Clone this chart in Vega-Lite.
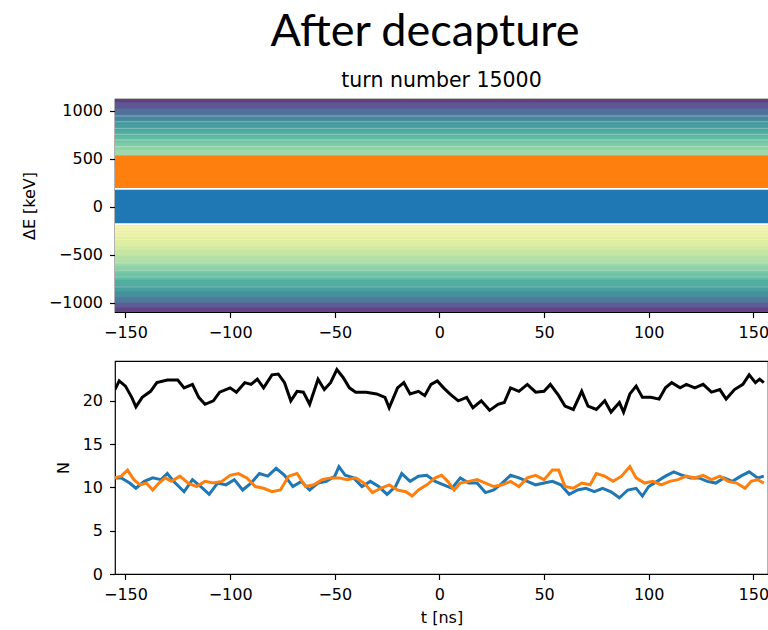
{
  "$schema": "https://vega.github.io/schema/vega-lite/v6.json",
  "background": "white",
  "padding": {"left": 20, "top": 9, "right": 0, "bottom": 0},
  "title": {"text": "After decapture", "font": "Lato", "fontSize": 45, "fontWeight": "normal", "color": "black", "anchor": "middle", "dx": 30, "offset": 15},
  "spacing": 49,
  "bounds": "flush",
  "config": {
    "view": {"stroke": "black", "strokeWidth": 1.2},
    "axis": {"domain": false, "grid": false, "ticks": true, "tickColor": "black", "tickSize": 5.5, "tickWidth": 1.2, "labelFont": "DejaVu Sans", "labelFontSize": 16, "labelColor": "black", "labelPadding": 7, "titleFont": "DejaVu Sans", "titleFontSize": 16, "titleFontWeight": "normal", "titleColor": "black", "titlePadding": 11, "labelFlush": false, "labelOverlap": false}
  },
  "datasets": {
    "bands": [
      {"lo": 1075, "hi": 1140, "lv": 0.0}, {"lo": 1010, "hi": 1087, "lv": 0.07}, {"lo": 945, "hi": 1022, "lv": 0.15},
      {"lo": 885, "hi": 957, "lv": 0.24}, {"lo": 851, "hi": 897, "lv": 0.3}, {"lo": 816, "hi": 863, "lv": 0.34},
      {"lo": 781, "hi": 828, "lv": 0.38}, {"lo": 754, "hi": 793, "lv": 0.42}, {"lo": 723, "hi": 766, "lv": 0.46},
      {"lo": 695, "hi": 735, "lv": 0.5}, {"lo": 660, "hi": 707, "lv": 0.55}, {"lo": 625, "hi": 672, "lv": 0.6},
      {"lo": 583, "hi": 637, "lv": 0.65}, {"lo": 500, "hi": 595, "lv": 0.7},
      {"lo": -243, "hi": -185, "lv": 1.0}, {"lo": -271, "hi": -231, "lv": 0.97}, {"lo": -302, "hi": -259, "lv": 0.95},
      {"lo": -340, "hi": -290, "lv": 0.93}, {"lo": -399, "hi": -328, "lv": 0.89}, {"lo": -460, "hi": -387, "lv": 0.85},
      {"lo": -520, "hi": -448, "lv": 0.81}, {"lo": -583, "hi": -508, "lv": 0.76}, {"lo": -625, "hi": -571, "lv": 0.71},
      {"lo": -659, "hi": -613, "lv": 0.66}, {"lo": -694, "hi": -647, "lv": 0.61}, {"lo": -729, "hi": -682, "lv": 0.56},
      {"lo": -771, "hi": -717, "lv": 0.5}, {"lo": -833, "hi": -759, "lv": 0.43}, {"lo": -890, "hi": -821, "lv": 0.35},
      {"lo": -950, "hi": -878, "lv": 0.27}, {"lo": -1010, "hi": -938, "lv": 0.18}, {"lo": -1060, "hi": -998, "lv": 0.09},
      {"lo": -1120, "hi": -1048, "lv": 0.01}
    ],
    "contours": [
      {"e": 945}, {"e": 885}, {"e": 816}, {"e": 754}, {"e": 695}, {"e": 625},
      {"e": -208}, {"e": -243}, {"e": -271}, {"e": -302}, {"e": -340}, {"e": -399}, {"e": -583}, {"e": -659},
      {"e": -729}, {"e": -833}
    ],
    "particles": [
      {"p": "gap", "lo": -190, "hi": 200},
      {"p": "blue", "lo": -170, "hi": 177},
      {"p": "orange", "lo": 195, "hi": 534}
    ],
    "lines": [
      {"s": "total", "t": -155, "N": 21.3}, {"s": "total", "t": -153, "N": 22.3}, {"s": "total", "t": -150, "N": 21.7},
      {"s": "total", "t": -147, "N": 20.4}, {"s": "total", "t": -145, "N": 19.3}, {"s": "total", "t": -142, "N": 20.4},
      {"s": "total", "t": -138, "N": 21.1}, {"s": "total", "t": -135, "N": 22.1}, {"s": "total", "t": -130, "N": 22.4},
      {"s": "total", "t": -125, "N": 22.4}, {"s": "total", "t": -122, "N": 21.5}, {"s": "total", "t": -118, "N": 21.9},
      {"s": "total", "t": -115, "N": 20.4}, {"s": "total", "t": -112, "N": 19.6}, {"s": "total", "t": -108, "N": 20.0},
      {"s": "total", "t": -105, "N": 21.0}, {"s": "total", "t": -100, "N": 21.5}, {"s": "total", "t": -97, "N": 21.0},
      {"s": "total", "t": -93, "N": 22.1}, {"s": "total", "t": -90, "N": 21.9}, {"s": "total", "t": -87, "N": 22.5},
      {"s": "total", "t": -84, "N": 21.5}, {"s": "total", "t": -80, "N": 23.0}, {"s": "total", "t": -77, "N": 23.1},
      {"s": "total", "t": -74, "N": 22.1}, {"s": "total", "t": -71, "N": 20.0}, {"s": "total", "t": -68, "N": 21.1},
      {"s": "total", "t": -65, "N": 21.0}, {"s": "total", "t": -62, "N": 19.6}, {"s": "total", "t": -58, "N": 22.5},
      {"s": "total", "t": -55, "N": 21.3}, {"s": "total", "t": -52, "N": 22.1}, {"s": "total", "t": -49, "N": 23.6},
      {"s": "total", "t": -46, "N": 22.7}, {"s": "total", "t": -43, "N": 21.5}, {"s": "total", "t": -40, "N": 21.0},
      {"s": "total", "t": -35, "N": 21.0}, {"s": "total", "t": -30, "N": 20.8}, {"s": "total", "t": -26, "N": 20.4},
      {"s": "total", "t": -24, "N": 19.2}, {"s": "total", "t": -20, "N": 21.5}, {"s": "total", "t": -17, "N": 22.1},
      {"s": "total", "t": -14, "N": 20.8}, {"s": "total", "t": -10, "N": 21.1}, {"s": "total", "t": -7, "N": 20.6},
      {"s": "total", "t": -4, "N": 21.9}, {"s": "total", "t": -1, "N": 22.3}, {"s": "total", "t": 2, "N": 21.5},
      {"s": "total", "t": 5, "N": 20.8}, {"s": "total", "t": 9, "N": 20.0}, {"s": "total", "t": 13, "N": 20.4},
      {"s": "total", "t": 16, "N": 19.2}, {"s": "total", "t": 20, "N": 20.0}, {"s": "total", "t": 24, "N": 18.9},
      {"s": "total", "t": 28, "N": 19.6}, {"s": "total", "t": 31, "N": 19.8}, {"s": "total", "t": 34, "N": 21.5},
      {"s": "total", "t": 38, "N": 21.1}, {"s": "total", "t": 42, "N": 21.9}, {"s": "total", "t": 46, "N": 21.0},
      {"s": "total", "t": 50, "N": 21.1}, {"s": "total", "t": 53, "N": 21.9}, {"s": "total", "t": 57, "N": 20.6},
      {"s": "total", "t": 60, "N": 19.4}, {"s": "total", "t": 64, "N": 19.0}, {"s": "total", "t": 68, "N": 21.1},
      {"s": "total", "t": 71, "N": 19.4}, {"s": "total", "t": 75, "N": 19.0}, {"s": "total", "t": 79, "N": 20.0},
      {"s": "total", "t": 82, "N": 18.7}, {"s": "total", "t": 86, "N": 19.8}, {"s": "total", "t": 88, "N": 18.7},
      {"s": "total", "t": 91, "N": 20.8}, {"s": "total", "t": 94, "N": 21.7}, {"s": "total", "t": 97, "N": 20.4},
      {"s": "total", "t": 101, "N": 20.4}, {"s": "total", "t": 105, "N": 20.2}, {"s": "total", "t": 108, "N": 21.5},
      {"s": "total", "t": 111, "N": 22.1}, {"s": "total", "t": 115, "N": 21.5}, {"s": "total", "t": 118, "N": 21.9},
      {"s": "total", "t": 122, "N": 21.5}, {"s": "total", "t": 126, "N": 21.9}, {"s": "total", "t": 130, "N": 21.0},
      {"s": "total", "t": 134, "N": 21.3}, {"s": "total", "t": 137, "N": 20.2}, {"s": "total", "t": 141, "N": 21.3},
      {"s": "total", "t": 145, "N": 21.9}, {"s": "total", "t": 148, "N": 23.0}, {"s": "total", "t": 151, "N": 22.1},
      {"s": "total", "t": 153, "N": 22.5}, {"s": "total", "t": 155, "N": 22.1},
      {"s": "blue", "t": -155, "N": 11.1}, {"s": "blue", "t": -152, "N": 11.1}, {"s": "blue", "t": -148, "N": 10.5},
      {"s": "blue", "t": -145, "N": 9.9}, {"s": "blue", "t": -141, "N": 10.7}, {"s": "blue", "t": -137, "N": 11.1},
      {"s": "blue", "t": -133, "N": 10.9}, {"s": "blue", "t": -130, "N": 11.6}, {"s": "blue", "t": -127, "N": 10.7},
      {"s": "blue", "t": -122, "N": 9.5}, {"s": "blue", "t": -118, "N": 10.9}, {"s": "blue", "t": -114, "N": 10.1},
      {"s": "blue", "t": -110, "N": 9.2}, {"s": "blue", "t": -106, "N": 10.5}, {"s": "blue", "t": -102, "N": 10.3},
      {"s": "blue", "t": -98, "N": 10.9}, {"s": "blue", "t": -94, "N": 9.7}, {"s": "blue", "t": -90, "N": 10.5},
      {"s": "blue", "t": -86, "N": 11.6}, {"s": "blue", "t": -82, "N": 11.3}, {"s": "blue", "t": -78, "N": 12.2},
      {"s": "blue", "t": -74, "N": 11.4}, {"s": "blue", "t": -70, "N": 10.1}, {"s": "blue", "t": -66, "N": 10.7},
      {"s": "blue", "t": -62, "N": 9.7}, {"s": "blue", "t": -58, "N": 10.5}, {"s": "blue", "t": -54, "N": 10.7},
      {"s": "blue", "t": -50, "N": 11.3}, {"s": "blue", "t": -48, "N": 12.4}, {"s": "blue", "t": -45, "N": 11.4},
      {"s": "blue", "t": -41, "N": 11.1}, {"s": "blue", "t": -37, "N": 10.1}, {"s": "blue", "t": -33, "N": 10.7},
      {"s": "blue", "t": -29, "N": 10.1}, {"s": "blue", "t": -25, "N": 9.2}, {"s": "blue", "t": -21, "N": 10.1},
      {"s": "blue", "t": -18, "N": 11.6}, {"s": "blue", "t": -14, "N": 10.7}, {"s": "blue", "t": -10, "N": 11.3},
      {"s": "blue", "t": -6, "N": 11.4}, {"s": "blue", "t": -2, "N": 10.7}, {"s": "blue", "t": 2, "N": 10.3},
      {"s": "blue", "t": 6, "N": 9.9}, {"s": "blue", "t": 10, "N": 11.1}, {"s": "blue", "t": 14, "N": 10.5},
      {"s": "blue", "t": 18, "N": 10.5}, {"s": "blue", "t": 22, "N": 9.4}, {"s": "blue", "t": 26, "N": 9.7},
      {"s": "blue", "t": 30, "N": 10.5}, {"s": "blue", "t": 34, "N": 11.4}, {"s": "blue", "t": 38, "N": 11.1},
      {"s": "blue", "t": 42, "N": 10.7}, {"s": "blue", "t": 46, "N": 10.3}, {"s": "blue", "t": 50, "N": 10.5},
      {"s": "blue", "t": 54, "N": 10.7}, {"s": "blue", "t": 58, "N": 10.3}, {"s": "blue", "t": 62, "N": 9.2},
      {"s": "blue", "t": 66, "N": 9.7}, {"s": "blue", "t": 70, "N": 9.9}, {"s": "blue", "t": 74, "N": 9.5},
      {"s": "blue", "t": 78, "N": 9.9}, {"s": "blue", "t": 82, "N": 9.5}, {"s": "blue", "t": 86, "N": 8.8},
      {"s": "blue", "t": 90, "N": 9.7}, {"s": "blue", "t": 94, "N": 9.9}, {"s": "blue", "t": 97, "N": 9.0},
      {"s": "blue", "t": 100, "N": 10.1}, {"s": "blue", "t": 104, "N": 10.7}, {"s": "blue", "t": 108, "N": 11.3},
      {"s": "blue", "t": 112, "N": 11.8}, {"s": "blue", "t": 116, "N": 11.4}, {"s": "blue", "t": 120, "N": 11.1},
      {"s": "blue", "t": 124, "N": 11.1}, {"s": "blue", "t": 128, "N": 10.7}, {"s": "blue", "t": 132, "N": 10.5},
      {"s": "blue", "t": 136, "N": 11.1}, {"s": "blue", "t": 140, "N": 10.7}, {"s": "blue", "t": 144, "N": 11.3},
      {"s": "blue", "t": 148, "N": 11.8}, {"s": "blue", "t": 152, "N": 11.1}, {"s": "blue", "t": 155, "N": 11.3},
      {"s": "orange", "t": -155, "N": 11.1}, {"s": "orange", "t": -152, "N": 11.3}, {"s": "orange", "t": -149, "N": 12.0},
      {"s": "orange", "t": -146, "N": 10.9}, {"s": "orange", "t": -143, "N": 10.3}, {"s": "orange", "t": -140, "N": 10.5},
      {"s": "orange", "t": -137, "N": 9.7}, {"s": "orange", "t": -134, "N": 10.5}, {"s": "orange", "t": -131, "N": 11.1},
      {"s": "orange", "t": -128, "N": 10.7}, {"s": "orange", "t": -124, "N": 11.3}, {"s": "orange", "t": -120, "N": 10.5},
      {"s": "orange", "t": -116, "N": 10.1}, {"s": "orange", "t": -112, "N": 10.7}, {"s": "orange", "t": -108, "N": 10.5},
      {"s": "orange", "t": -104, "N": 10.7}, {"s": "orange", "t": -100, "N": 11.4}, {"s": "orange", "t": -96, "N": 11.6},
      {"s": "orange", "t": -92, "N": 11.1}, {"s": "orange", "t": -88, "N": 10.1}, {"s": "orange", "t": -84, "N": 9.9},
      {"s": "orange", "t": -80, "N": 9.5}, {"s": "orange", "t": -76, "N": 9.7}, {"s": "orange", "t": -72, "N": 11.3},
      {"s": "orange", "t": -68, "N": 11.6}, {"s": "orange", "t": -64, "N": 10.1}, {"s": "orange", "t": -60, "N": 10.3},
      {"s": "orange", "t": -56, "N": 10.9}, {"s": "orange", "t": -52, "N": 11.1}, {"s": "orange", "t": -48, "N": 11.1},
      {"s": "orange", "t": -44, "N": 10.9}, {"s": "orange", "t": -40, "N": 11.1}, {"s": "orange", "t": -36, "N": 10.5},
      {"s": "orange", "t": -32, "N": 9.4}, {"s": "orange", "t": -28, "N": 9.9}, {"s": "orange", "t": -24, "N": 10.3},
      {"s": "orange", "t": -20, "N": 9.7}, {"s": "orange", "t": -16, "N": 9.5}, {"s": "orange", "t": -13, "N": 9.0},
      {"s": "orange", "t": -10, "N": 9.7}, {"s": "orange", "t": -6, "N": 10.3}, {"s": "orange", "t": -2, "N": 11.1},
      {"s": "orange", "t": 1, "N": 11.4}, {"s": "orange", "t": 4, "N": 10.7}, {"s": "orange", "t": 7, "N": 9.7},
      {"s": "orange", "t": 10, "N": 10.5}, {"s": "orange", "t": 14, "N": 10.7}, {"s": "orange", "t": 18, "N": 10.9},
      {"s": "orange", "t": 22, "N": 10.5}, {"s": "orange", "t": 26, "N": 10.1}, {"s": "orange", "t": 30, "N": 10.3},
      {"s": "orange", "t": 34, "N": 10.7}, {"s": "orange", "t": 38, "N": 10.1}, {"s": "orange", "t": 42, "N": 11.1},
      {"s": "orange", "t": 46, "N": 11.4}, {"s": "orange", "t": 50, "N": 10.9}, {"s": "orange", "t": 54, "N": 12.0},
      {"s": "orange", "t": 57, "N": 12.0}, {"s": "orange", "t": 60, "N": 10.1}, {"s": "orange", "t": 64, "N": 9.9},
      {"s": "orange", "t": 68, "N": 10.5}, {"s": "orange", "t": 72, "N": 10.3}, {"s": "orange", "t": 75, "N": 11.6},
      {"s": "orange", "t": 79, "N": 11.3}, {"s": "orange", "t": 83, "N": 10.7}, {"s": "orange", "t": 87, "N": 11.3},
      {"s": "orange", "t": 91, "N": 12.4}, {"s": "orange", "t": 94, "N": 11.1}, {"s": "orange", "t": 98, "N": 10.5},
      {"s": "orange", "t": 102, "N": 10.7}, {"s": "orange", "t": 106, "N": 10.3}, {"s": "orange", "t": 110, "N": 10.7},
      {"s": "orange", "t": 114, "N": 10.9}, {"s": "orange", "t": 118, "N": 11.3}, {"s": "orange", "t": 122, "N": 11.1},
      {"s": "orange", "t": 126, "N": 11.4}, {"s": "orange", "t": 130, "N": 10.9}, {"s": "orange", "t": 134, "N": 11.3},
      {"s": "orange", "t": 138, "N": 10.7}, {"s": "orange", "t": 142, "N": 10.5}, {"s": "orange", "t": 146, "N": 9.9},
      {"s": "orange", "t": 149, "N": 10.7}, {"s": "orange", "t": 152, "N": 10.9}, {"s": "orange", "t": 155, "N": 10.5}
    ]
  },
  "vconcat": [
    {
      "width": 653,
      "height": 213,
      "title": {"text": "turn number 15000", "font": "DejaVu Sans", "fontSize": 20.5, "fontWeight": "normal", "color": "black", "offset": 8, "anchor": "middle"},
      "layer": [
        {
          "data": {"name": "bands"},
          "mark": {"type": "rect", "clip": true},
          "encoding": {
            "x": {"datum": -155, "type": "quantitative", "scale": {"domain": [-155, 157], "nice": false, "zero": false}, "axis": {"title": null, "values": [-150, -100, -50, 0, 50, 100, 150]}},
            "x2": {"datum": 157},
            "y": {"field": "lo", "type": "quantitative", "scale": {"domain": [-1094, 1122], "nice": false, "zero": false}, "axis": {"title": "ΔE [keV]", "values": [-1000, -500, 0, 500, 1000], "format": "d"}},
            "y2": {"field": "hi"},
            "color": {"field": "lv", "type": "quantitative", "scale": {"domain": [0, 0.1, 0.2, 0.3, 0.42, 0.5, 0.62, 0.7, 0.8, 0.88, 1.0], "range": ["#643f84", "#5e5f96", "#4f7e9a", "#46979c", "#4fac9e", "#5fbca2", "#80cca6", "#9dd8aa", "#c2e5a2", "#dfeda0", "#f2f2a6"]}, "legend": null}
          }
        },
        {
          "data": {"name": "contours"},
          "mark": {"type": "rule", "color": "white", "opacity": 0.3, "strokeWidth": 1, "clip": true},
          "encoding": {
            "x": {"datum": -155, "type": "quantitative"},
            "x2": {"datum": 157},
            "y": {"field": "e", "type": "quantitative"}
          }
        },
        {
          "data": {"name": "particles"},
          "transform": [{"filter": "datum.p === 'gap'"}],
          "mark": {"type": "rect", "color": "white", "clip": true},
          "encoding": {
            "x": {"datum": -155, "type": "quantitative"},
            "x2": {"datum": 157},
            "y": {"field": "lo", "type": "quantitative"},
            "y2": {"field": "hi"}
          }
        },
        {
          "data": {"name": "particles"},
          "transform": [{"filter": "datum.p === 'blue'"}],
          "mark": {"type": "rect", "color": "#1f77b4", "clip": true},
          "encoding": {
            "x": {"datum": -155, "type": "quantitative"},
            "x2": {"datum": 157},
            "y": {"field": "lo", "type": "quantitative"},
            "y2": {"field": "hi"}
          }
        },
        {
          "data": {"name": "particles"},
          "transform": [{"filter": "datum.p === 'orange'"}],
          "mark": {"type": "rect", "color": "#ff7f0e", "clip": true},
          "encoding": {
            "x": {"datum": -155, "type": "quantitative"},
            "x2": {"datum": 157},
            "y": {"field": "lo", "type": "quantitative"},
            "y2": {"field": "hi"}
          }
        }
      ]
    },
    {
      "width": 653,
      "height": 213,
      "data": {"name": "lines"},
      "mark": {"type": "line", "strokeWidth": 3, "clip": true},
      "encoding": {
        "x": {"field": "t", "type": "quantitative", "scale": {"domain": [-155, 157], "nice": false, "zero": false}, "axis": {"title": "t [ns]", "values": [-150, -100, -50, 0, 50, 100, 150], "titlePadding": 7}},
        "y": {"field": "N", "type": "quantitative", "scale": {"domain": [0, 24.6], "nice": false}, "axis": {"title": "N", "values": [0, 5, 10, 15, 20]}},
        "color": {"field": "s", "type": "nominal", "scale": {"domain": ["total", "blue", "orange"], "range": ["black", "#1f77b4", "#ff7f0e"]}, "legend": null}
      }
    }
  ]
}
